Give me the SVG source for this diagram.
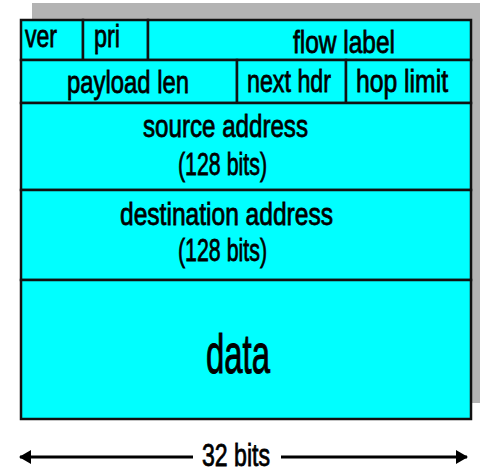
<svg xmlns="http://www.w3.org/2000/svg" width="486" height="474" viewBox="0 0 486 474">
<style>
.cell{fill:#00ffff;stroke:#111;stroke-width:2.5}
.t{font-family:"Liberation Sans",Arial,sans-serif;font-size:32px;fill:#000;stroke:#000;stroke-width:0.8}
.ln{stroke:#000;stroke-width:3;fill:none}
</style>
<defs>
<marker id="ah" viewBox="0 0 12 14" refX="11" refY="7" markerWidth="12" markerHeight="14" orient="auto-start-reverse" markerUnits="userSpaceOnUse">
<path d="M0,0 L12,7 L0,14 z" fill="#000"/>
</marker>
</defs>
<rect x="32" y="3" width="448" height="400" fill="#b3b3b3"/>
<g id="ver"><rect class="cell" x="21" y="20" width="62" height="40"/><text class="t" x="25" y="47" textLength="32" lengthAdjust="spacingAndGlyphs">ver</text></g>
<g id="pri"><rect class="cell" x="83" y="20" width="65" height="40"/><text class="t" x="94" y="47" textLength="26" lengthAdjust="spacingAndGlyphs">pri</text></g>
<g id="flow"><rect class="cell" x="148" y="20" width="323" height="40"/><text class="t" x="293" y="53" textLength="102" lengthAdjust="spacingAndGlyphs">flow label</text></g>
<g id="payload"><rect class="cell" x="21" y="60" width="216" height="43"/><text class="t" x="67" y="93" textLength="122" lengthAdjust="spacingAndGlyphs">payload len</text></g>
<g id="nexthdr"><rect class="cell" x="237" y="60" width="109" height="43"/><text class="t" x="247" y="92" textLength="84" lengthAdjust="spacingAndGlyphs">next hdr</text></g>
<g id="hoplimit"><rect class="cell" x="346" y="60" width="125" height="43"/><text class="t" x="356" y="92" textLength="92" lengthAdjust="spacingAndGlyphs">hop limit</text></g>
<g id="source"><rect class="cell" x="21" y="103" width="450" height="87"/><text class="t" x="143" y="137" textLength="165" lengthAdjust="spacingAndGlyphs">source address</text><text class="t" x="178" y="175" textLength="89" lengthAdjust="spacingAndGlyphs">(128 bits)</text></g>
<g id="dest"><rect class="cell" x="21" y="190" width="450" height="90"/><text class="t" x="120" y="225" textLength="213" lengthAdjust="spacingAndGlyphs">destination address</text><text class="t" x="178" y="261" textLength="89" lengthAdjust="spacingAndGlyphs">(128 bits)</text></g>
<g id="data"><rect class="cell" x="21" y="280" width="450" height="139"/><text class="t" x="206" y="373" style="font-size:56px;stroke-width:1" textLength="64" lengthAdjust="spacingAndGlyphs">data</text></g>
<g id="connectors">
<line class="ln" x1="193" y1="457" x2="20" y2="457" marker-end="url(#ah)"/>
<line class="ln" x1="281" y1="457" x2="467" y2="457" marker-end="url(#ah)"/>
</g>
<text class="t" x="202" y="466" textLength="68" lengthAdjust="spacingAndGlyphs">32 bits</text>
</svg>
